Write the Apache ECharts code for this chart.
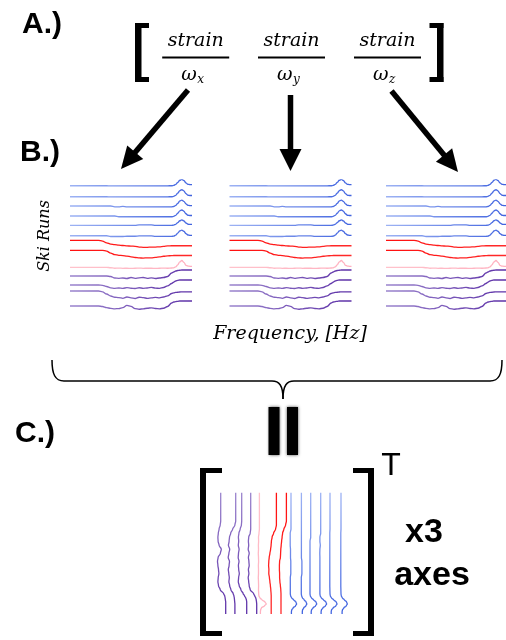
<!DOCTYPE html>
<html>
<head>
<meta charset="utf-8">
<script src="https://cdn.jsdelivr.net/npm/echarts@6/dist/echarts.min.js"></script>
<style>
  html, body { margin: 0; padding: 0; background: #fff; }
  #chart { width: 506px; height: 640px; }
</style>
</head>
<body>
<div id="chart"></div>
<script>
// Frequency samples (denser near the resonance peak)
const freq = [0,2,4,6,8,10,12,14,16,18,20,22,24,26,28,30,32,34,36,38,40,42,44,46,48,50,51,52,53,54,55,56,57,58,59,60];

// Offset spectra, one per ski run (larger value = lower on the stack)
const blue1 = [5.7,5.7,5.7,5.7,5.7,5.7,5.7,5.7,5.7,5.7,5.9,5.9,5.9,5.9,5.9,5.9,5.9,5.9,5.9,5.9,5.9,5.9,5.9,5.9,5.8,5.7,5.4,4.4,2.4,0.2,-0.6,0.5,2.9,4.3,4.6,4.6];
const blue2 = [16.7,16.7,16.7,16.7,16.7,16.7,16.7,16.7,16.7,16.7,16.9,16.9,16.9,16.9,16.9,16.9,16.9,16.9,16.9,16.9,16.9,16.9,16.9,16.9,16.8,16.7,16.4,15.3,13.1,10.6,9.7,10.9,13.6,15.2,15.5,15.5];
const blue3 = [26,26,26,26,26,26,26,26,26,26,26,26.8,26.8,26.4,26.8,26.9,26.8,26.8,26.8,26.8,26.8,26.8,26.8,26.8,26.8,26.8,26.5,25.4,23.3,20.9,20.1,21.3,23.8,25.3,25.6,25.6];
const blue4 = [36,36,36,36,36,36,36,36,36,36,36,36,36.7,36.7,36.7,36.7,36.7,36.7,36.7,36.7,36.7,36.7,36.7,36.7,36.7,36.7,36.4,35.3,33.2,30.8,30,31.2,33.7,35.2,35.5,35.5];
const blue5 = [45.3,45.3,45.3,45.3,45.3,45.3,45.3,45.3,45.3,45.3,45.3,45.3,45.3,45.3,45.3,45.3,45.3,44.8,44.8,44.8,44.8,45.4,45.4,45.4,45.4,45.4,45.1,44.3,42.6,40.7,39.9,40.9,43,44.2,44.4,44.4];
const blue6 = [55.7,55.7,55.7,55.7,55.7,55.7,55.7,55.7,55.7,55.7,56.5,56.5,56.5,56.5,56.2,56.2,56.2,55.9,55.9,55.9,55.9,56.4,56.4,56.4,56.4,56.4,56.1,55.1,53.1,50.9,50.1,51.2,53.6,55,55.3,55.3];
const red1 = [60.3,60.3,60.3,60.3,60.3,60.3,60.3,60.3,61.1,62.8,64.1,64.6,65.1,65.5,65.9,66.1,66.3,67.1,67.3,67.3,67.1,67.1,66.8,66.3,65.9,65.7,65.7,65.7,65.7,65.7,65.7,65.7,65.7,65.7,65.7,65.7];
const red2 = [70.3,70.3,70.3,70.3,70.3,70.3,70.3,70.3,70.3,71.1,73.1,74.6,75.3,75.6,76.1,76.8,77.5,77.9,78.1,77.8,77.9,77.3,76.8,76.3,75.9,75.6,75.5,75.5,75.5,75.5,75.5,75.5,75.5,75.5,75.5,75.5];
const pink1 = [87.3,87.3,87.3,87.3,87.3,87.3,87.3,87.3,87.3,87.3,87.7,88.2,88.1,88.3,88.2,88.4,88.2,88.1,88.3,88.2,88.2,88.4,88.2,88.1,88.2,88,87.8,86.8,84.8,81.8,80.5,82.3,85.3,86.1,86.3,86.3];
const purple1 = [96,96,96,96,96,96,96,96,96,96,96.5,98,98.3,98,98.5,97.5,98.3,97.8,97.5,98.3,97.8,98.5,98,97.5,96.5,93,92,91,90.5,90.2,90,90,90,90,90,90];
const purple2 = [105,105,105,105,105,105,105,105,105.3,106.5,107.8,108.3,108,108.4,107.6,108.2,108.5,107.7,108.3,108,107.4,108.1,108.4,107.5,105.8,103.5,102.2,101,100.3,100,100,100,100,100,100,100];
const purple3 = [111,111,111,111,111,111,111,111,111.8,114,116,117.2,117.6,118.3,117,117.8,118.5,117.2,117.6,118.4,117.9,117.4,117.8,117,115.8,113.5,112.8,112.4,112.2,112,111.8,111.8,111.8,111.8,111.8,111.8];
const purple4 = [126,126,126,126,126,126,126,126,126.5,127.6,128.4,128.8,128.6,127.6,125.4,126.3,128.6,129.2,128.8,128.2,127.8,128.5,128.8,128.2,126.5,123,122,121.6,121.3,121,121,121,121,121,121,121];

const runs = [blue1, blue2, blue3, blue4, blue5, blue6, red1, red2, pink1, purple1, purple2, purple3, purple4];
const runColors = [
  ['#9fb4f4', '#3f62df'], ['#9fb4f4', '#3f62df'], ['#9fb4f4', '#3f62df'],
  ['#9fb4f4', '#3f62df'], ['#9fb4f4', '#3f62df'], ['#9fb4f4', '#3f62df'],
  ['#ff1010', '#ff2a2a'], ['#ff1010', '#ff2a2a'],
  ['#ffc3cc', '#ffb0bf'],
  ['#9c86ce', '#5b2ea6'], ['#9c86ce', '#5b2ea6'], ['#9c86ce', '#5b2ea6'], ['#9c86ce', '#5b2ea6']
];

function gradient(stops, horizontal) {
  return {
    type: 'linear', x: 0, y: 0, x2: horizontal ? 1 : 0, y2: horizontal ? 0 : 1,
    colorStops: [{ offset: 0, color: stops[0] }, { offset: 1, color: stops[1] }]
  };
}

// Three stacked-spectrum panels (one per rotation axis) and the transposed matrix
const panelGrids = [
  { left: 70, top: 180, width: 122, height: 130 },
  { left: 229.5, top: 180, width: 122, height: 130 },
  { left: 386, top: 180, width: 122, height: 130 }
];
const matrixGrid = { left: 216.7, top: 492.7, width: 130, height: 121.3 };

const grid = panelGrids.concat([matrixGrid]);
const xAxis = [], yAxis = [], series = [];
panelGrids.forEach((g, gi) => {
  xAxis.push({ gridIndex: gi, type: 'value', min: 0, max: 60, show: false });
  yAxis.push({ gridIndex: gi, type: 'value', min: 0, max: 130, inverse: true, show: false });
  runs.forEach((vals, ri) => {
    series.push({
      type: 'line', xAxisIndex: gi, yAxisIndex: gi, symbol: 'none', smooth: 0.35, smoothMonotone: 'x',
      data: freq.map((f, i) => [f, vals[i]]),
      lineStyle: { width: 1.35, color: gradient(runColors[ri], true) },
      silent: true
    });
  });
});
xAxis.push({ gridIndex: 3, type: 'value', min: 0, max: 130, inverse: true, show: false });
yAxis.push({ gridIndex: 3, type: 'value', min: 0, max: 60, inverse: true, show: false });
runs.forEach((vals, ri) => {
  series.push({
    type: 'line', xAxisIndex: 3, yAxisIndex: 3, symbol: 'none', smooth: 0.35, smoothMonotone: 'y',
    data: freq.map((f, i) => [vals[i], f]),
    lineStyle: { width: 1.3, color: gradient(runColors[ri], false) },
    silent: true
  });
});

const ink = '#000';
const sans = '"Liberation Sans", Arial, sans-serif';
const serif = '"DejaVu Serif", "Liberation Serif", serif';

function label(text, x, y, font, align) {
  return { type: 'text', x: x, y: y, silent: true,
    style: { text: text, font: font, fill: ink, textAlign: align || 'left', textVerticalAlign: 'middle' } };
}
function box(x, y, w, h, extra) {
  return { type: 'rect', silent: true, shape: { x: x, y: y, width: w, height: h },
    style: Object.assign({ fill: ink }, extra || {}) };
}
function arrow(x1, y1, tx, ty, headLen, headHalf) {
  const dx = tx - x1, dy = ty - y1, len = Math.hypot(dx, dy);
  const ux = dx / len, uy = dy / len, nx = -uy, ny = ux;
  const bx = tx - ux * headLen, by = ty - uy * headLen;
  return [
    { type: 'line', silent: true, shape: { x1: x1, y1: y1, x2: bx + ux * 2, y2: by + uy * 2 },
      style: { stroke: ink, lineWidth: 5.5 } },
    { type: 'polygon', silent: true,
      shape: { points: [[tx, ty], [bx + nx * headHalf, by + ny * headHalf], [bx - nx * headHalf, by - ny * headHalf]] },
      style: { fill: ink } }
  ];
}
function curve(x1, y1, c1x, c1y, c2x, c2y, x2, y2) {
  return { type: 'bezierCurve', silent: true,
    shape: { x1: x1, y1: y1, cpx1: c1x, cpy1: c1y, cpx2: c2x, cpy2: c2y, x2: x2, y2: y2 },
    style: { stroke: ink, lineWidth: 1.5, fill: null } };
}
function hline(x1, x2, y) {
  return { type: 'line', silent: true, shape: { x1: x1, y1: y, x2: x2, y2: y }, style: { stroke: ink, lineWidth: 1.5 } };
}

const fractionCenters = [195.7, 291.5, 387.5];
const subscripts = ['x', 'y', 'z'];

const graphic = [
  label('A.)', 22, 25, 'bold 30px ' + sans),
  label('B.)', 20, 153, 'bold 30px ' + sans),
  label('C.)', 15, 434, 'bold 30px ' + sans),

  // row vector brackets
  box(135, 23, 6.5, 59), box(135, 23, 14, 5), box(135, 77, 14, 5),
  box(437, 23, 6.5, 59), box(429.5, 23, 14, 5), box(429.5, 77, 14, 5),

  // transposed matrix brackets
  box(200, 468, 6, 168), box(200, 468, 22, 5), box(200, 631, 22, 5),
  box(368, 468, 6, 168), box(353, 468, 21, 5), box(353, 631, 21, 5),

  label('T', 391, 466, '32px ' + sans, 'center'),
  label('x3', 424, 533, 'bold 34px ' + sans, 'center'),
  label('axes', 432, 576, 'bold 34px ' + sans, 'center'),

  // equality sign, turned upright
  box(268.5, 407, 11, 48, { shadowBlur: 3, shadowColor: 'rgba(0,0,0,0.7)' }),
  box(287, 407, 11, 48, { shadowBlur: 3, shadowColor: 'rgba(0,0,0,0.7)' }),

  {
    type: 'text', x: 45, y: 236, rotation: Math.PI / 2, silent: true,
    style: { text: 'Ski Runs', font: 'italic 16px ' + serif, fill: ink, textAlign: 'center', textVerticalAlign: 'middle' }
  },
  label('Frequency, [Hz]', 290, 334, 'italic 19px ' + serif, 'center'),

  // curly brace joining the three panels
  curve(52, 360, 52, 374, 55, 381, 64, 381),
  hline(64, 272, 381),
  curve(272, 381, 279, 381, 283, 385, 283, 399),
  curve(283, 399, 283, 385, 287, 381, 294, 381),
  hline(294, 490, 381),
  curve(490, 381, 499, 381, 502, 374, 502, 360)
];

fractionCenters.forEach((cx, i) => {
  graphic.push(label('strain', cx, 41, 'italic 19px ' + serif, 'center'));
  graphic.push({ type: 'line', silent: true, shape: { x1: cx - 33.5, y1: 57.5, x2: cx + 33.5, y2: 57.5 },
    style: { stroke: ink, lineWidth: 2 } });
  graphic.push(label('\u03C9', cx + 1, 75, 'italic 19px ' + serif, 'right'));
  graphic.push(label(subscripts[i], cx + 1.5, 80, 'italic 12px ' + serif, 'left'));
});

graphic.push(...arrow(188, 90, 121, 169, 22, 10.5));
graphic.push(...arrow(290.5, 95, 290.5, 171, 22, 11));
graphic.push(...arrow(391.5, 91, 458, 172, 22, 10.5));

const chart = echarts.init(document.getElementById('chart'), null, { renderer: 'canvas' });
chart.setOption({
  animation: false,
  backgroundColor: '#fff',
  grid: grid,
  xAxis: xAxis,
  yAxis: yAxis,
  series: series,
  graphic: { elements: graphic }
});
</script>
</body>
</html>
